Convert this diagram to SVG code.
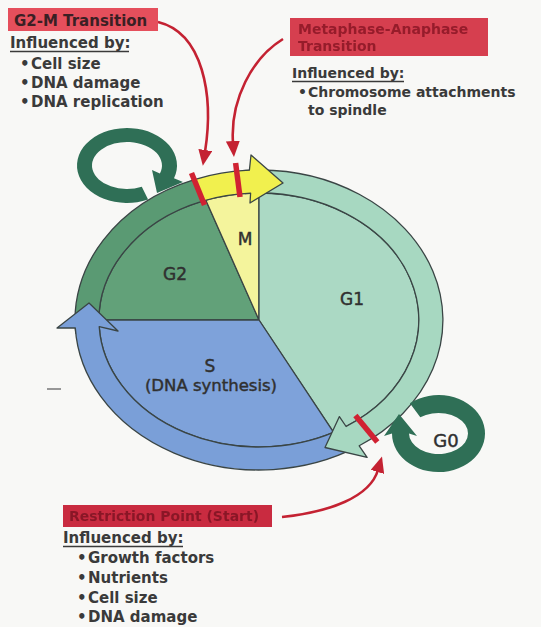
<svg xmlns="http://www.w3.org/2000/svg" width="541" height="627" viewBox="0 0 541 627">
<defs>
<style>
.t{font-family:"DejaVu Sans","Liberation Sans",sans-serif;font-weight:bold;fill:#3a3a3a;}
.s15{font-size:15px;}
.s14{font-size:14px;}
.ph{font-family:"DejaVu Sans","Liberation Sans",sans-serif;font-weight:normal;fill:#303030;stroke:#303030;stroke-width:0.45;text-anchor:middle;font-size:17px;}
.edge{stroke:#3a4545;stroke-width:1.3;stroke-linejoin:round;}
.bar{stroke:#d02232;stroke-width:5.5;stroke-linecap:butt;}
.ptr{fill:none;stroke:#c42232;stroke-width:2.6;marker-end:url(#ah);}
.loop{fill:#2f6f56;}
.ul{stroke:#3a3a3a;stroke-width:1.4;}
.blur{filter:url(#soft);}
</style>
<marker id="ah" viewBox="0 0 16 14" refX="2" refY="7" markerWidth="16" markerHeight="14" markerUnits="userSpaceOnUse" orient="auto">
<path d="M0,0 L16,7 L0,14 z" fill="#c42232"/>
</marker>
<filter id="soft" x="-5%" y="-20%" width="110%" height="140%"><feGaussianBlur stdDeviation="0.7"/></filter>
</defs>
<rect width="541" height="627" fill="#f8f8f6"/>

<g id="cell-pie">
<path id="pie-G2" class="edge" fill="#62a179" d="M259,320 L99,320 A160,127 0 0 1 205.85,200.2 Z"/>
<path id="pie-M" class="edge" fill="#f4f49c" d="M259,320 L205.85,200.2 A160,127 0 0 1 259,193 Z"/>
<path id="pie-G1" class="edge" fill="#abd9c4" d="M259,320 L259,193 A160,127 0 0 1 333.6,432.3 Z"/>
<path id="pie-S" class="edge" fill="#7ea2da" d="M259,320 L333.6,432.3 A160,127 0 0 1 99,320 Z"/>
</g>

<g id="ring">
<path id="ring-G2" class="edge" fill="#5a9a73" d="M75.7,333.1 A184,150 0 0 1 194.3,179.6 L202.7,201.1 A160,127 0 0 0 99.6,331.1 Z"/>
<path id="ring-S" class="edge" fill="#7a9fd8" d="M356.5,447.2 A184,150 0 0 1 75.3,327.9 L57,328 L89,303 L118,331 L99.2,326.6 A160,127 0 0 0 343.8,427.7 Z"/>
<path id="ring-G1" class="edge" fill="#a7d8c1" d="M243,170.6 A184,150 0 0 1 359.2,445.8 L367.1,457.4 L325,447.5 L339.4,416.6 L346.1,426.5 A160,127 0 0 0 245.1,193.5 Z"/>
<path id="ring-M" class="edge" fill="#f1f04e" d="M194.3,179.6 A184,150 0 0 1 249.4,170.2 L251,155 L283,183 L250,203 L250.6,193.2 A160,127 0 0 0 202.7,201.1 Z"/>
</g>

<g id="phase-labels">
<text class="ph" x="175" y="280">G2</text>
<text class="ph" x="245" y="245">M</text>
<text class="ph" x="352" y="305">G1</text>
<text class="ph" x="210" y="372">S</text>
<text class="ph" x="211" y="391" style="font-size:16.5px">(DNA synthesis)</text>
</g>

<g id="loop-G2">
<path class="loop" d="M148.1,199.5 A50,37.5 0 1 1 174,178.3 L183,182 L157,193 L152,170 L159.9,173.5 A35,23.5 0 1 0 141.8,186.8 Z"/>
</g>

<g id="loop-G0">
<path class="loop" d="M409.9,403.2 A46.5,38.5 0 1 1 392,433.5 L384,436 L399,414 L417,436 L409,433.5 A29.5,20.5 0 1 0 420.3,417.3 Z"/>
<text class="ph" x="446" y="447" style="font-size:18px">G0</text>
</g>

<g id="checkpoints">
<line class="bar" x1="191.5" y1="173" x2="204.5" y2="205"/>
<line class="bar" x1="235.6" y1="163" x2="240" y2="197"/>
<line class="bar" x1="355.4" y1="415.6" x2="377.3" y2="442"/>
</g>

<g id="connectors">
<path class="ptr" d="M158,22 C203,33 214,95 205,152"/>
<path class="ptr" d="M283,39 C252,58 230,100 233,143"/>
<path class="ptr" d="M282,517 C330,512 370,497 378,470"/>
</g>

<g id="label-G2M">
<rect x="8" y="8" width="150" height="23" fill="#e54f5c"/>
<text class="t s15" x="14" y="25.5" style="fill:#3a2024">G2-M Transition</text>
<text class="t s15" x="10" y="48">Influenced by:</text>
<line class="ul" x1="10" y1="51.5" x2="129" y2="51.5"/>
<text class="t s15" x="20" y="69">•</text><text class="t s15" x="31" y="69">Cell size</text>
<text class="t s15" x="20" y="88">•</text><text class="t s15" x="31" y="88">DNA damage</text>
<text class="t s15" x="20" y="107">•</text><text class="t s15" x="31" y="107">DNA replication</text>
</g>

<g id="label-MA">
<rect x="290" y="18" width="198" height="38" fill="#d63f4f"/>
<text class="t s14 blur" x="298" y="34" style="fill:#961c2c">Metaphase-Anaphase</text>
<text class="t s14 blur" x="298" y="51" style="fill:#961c2c">Transition</text>
<text class="t s14" x="292" y="78">Influenced by:</text>
<line class="ul" x1="292" y1="81.5" x2="404" y2="81.5"/>
<text class="t s14" x="298" y="97">•</text><text class="t s14" x="308" y="97">Chromosome attachments</text>
<text class="t s14" x="308" y="115">to spindle</text>
</g>

<g id="label-R">
<rect x="63" y="505" width="209" height="22" fill="#c92b40"/>
<text class="t s14 blur" x="69" y="521" style="fill:#8a1828">Restriction Point (Start)</text>
<text class="t s15" x="63" y="543">Influenced by:</text>
<line class="ul" x1="63" y1="546.5" x2="183" y2="546.5"/>
<text class="t s15" x="77" y="563">•</text><text class="t s15" x="88" y="563">Growth factors</text>
<text class="t s15" x="77" y="583">•</text><text class="t s15" x="88" y="583">Nutrients</text>
<text class="t s15" x="77" y="603">•</text><text class="t s15" x="88" y="603">Cell size</text>
<text class="t s15" x="77" y="622">•</text><text class="t s15" x="88" y="622">DNA damage</text>
</g>

<line x1="47" y1="389" x2="61" y2="389" stroke="#777" stroke-width="1.5"/>
</svg>
